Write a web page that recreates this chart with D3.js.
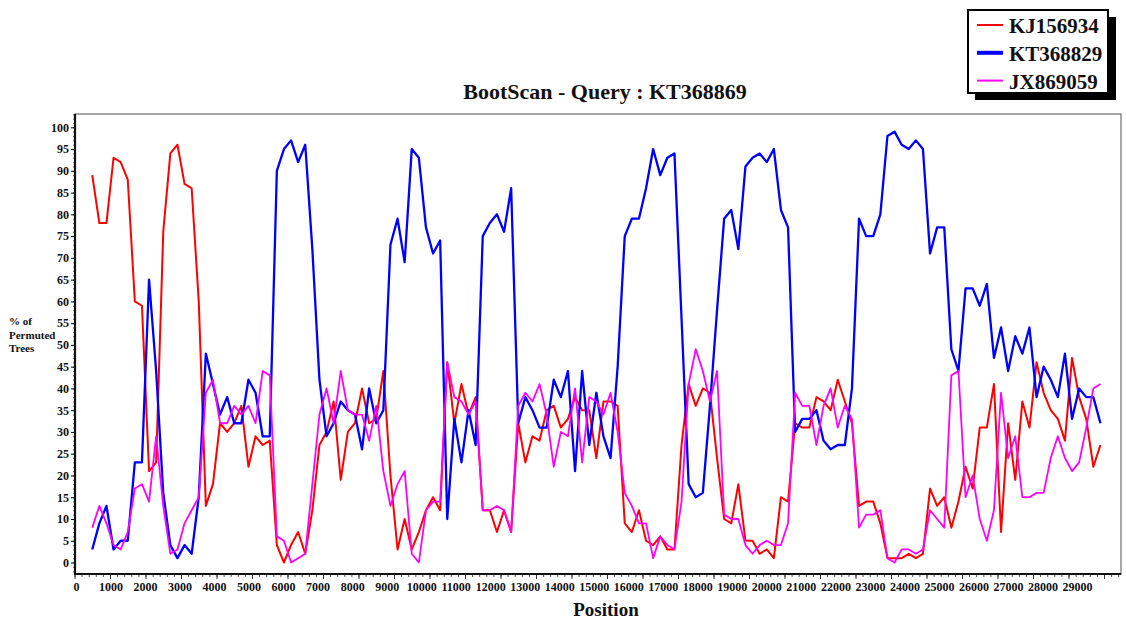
<!DOCTYPE html>
<html>
<head>
<meta charset="utf-8">
<script src="https://d3js.org/d3.v7.min.js"></script>
<style>
  html, body { margin: 0; padding: 0; background: #fff; }
  svg { display: block; }
  text { font-family: "Liberation Serif", "DejaVu Serif", serif; font-weight: bold; }
</style>
</head>
<body>
<svg id="chart" width="1126" height="623"></svg>
<script>
/*
 * BootScan plot, query KT368869: % of permuted trees along the genome.
 */

// window centres: 500, 700, ... 28900
var windowStart = 500;
var windowStep = 200;

var seriesNames = ["KJ156934", "KT368829", "JX869059"];
var seriesColors = ["#ff0000", "#0000ff", "#ff00ff"];
var seriesWidths = [2, 2.3, 1.8];

var kj156934 = [
  89, 78, 78, 93, 92, 88, 60, 59, 21, 23,
  76, 94, 96, 87, 86, 60, 13, 18, 32, 30,
  32, 36, 22, 29, 27, 28, 4, 0, 4, 7,
  2, 12, 27, 30, 37, 19, 30, 32, 40, 32,
  33, 44, 20, 3, 10, 3, 7, 12, 15, 12,
  46, 32, 41, 34, 38, 12, 12, 7, 12, 7,
  32, 23, 29, 28, 35, 36, 31, 33, 38, 35,
  35, 24, 37, 37, 36, 9, 7, 12, 5, 4,
  6, 3, 3, 27, 41, 36, 40, 39, 24, 10,
  9, 18, 5, 5, 2, 3, 1, 15, 14, 32,
  31, 31, 38, 37, 35, 42, 37, 32, 13, 14,
  14, 9, 1, 1, 1, 2, 1, 2, 17, 13,
  15, 8, 14, 22, 17, 31, 31, 41, 7, 32,
  19, 37, 31, 46, 39, 35, 33, 28, 47, 38,
  33, 22, 27
];

var kt368829 = [
  3, 9, 13, 3, 5, 5, 23, 23, 65, 44,
  16, 4, 1, 4, 2, 15, 48, 41, 34, 38,
  32, 32, 42, 39, 29, 29, 90, 95, 97, 92,
  96, 72, 42, 29, 32, 37, 35, 34, 26, 40,
  32, 35, 73, 79, 69, 95, 93, 77, 71, 74,
  10, 33, 23, 35, 27, 75, 78, 80, 76, 86,
  32, 38, 35, 31, 31, 42, 38, 44, 21, 44,
  27, 39, 29, 24, 45, 75, 79, 79, 86, 95,
  89, 93, 94, 56, 18, 15, 16, 36, 58, 79,
  81, 72, 91, 93, 94, 92, 95, 81, 77, 30,
  33, 33, 35, 28, 26, 27, 27, 40, 79, 75,
  75, 80, 98, 99, 96, 95, 97, 95, 71, 77,
  77, 49, 44, 63, 63, 59, 64, 47, 54, 44,
  52, 48, 54, 38, 45, 42, 38, 48, 33, 40,
  38, 38, 32
];

var jx869059 = [
  8, 13, 9, 4, 3, 7, 17, 18, 14, 29,
  13, 2, 3, 9, 12, 15, 39, 42, 32, 32,
  36, 34, 36, 32, 44, 43, 6, 5, 0, 1,
  2, 18, 34, 40, 32, 44, 35, 34, 34, 28,
  36, 21, 13, 18, 21, 2, 0, 12, 14, 14,
  46, 38, 37, 34, 37, 12, 12, 13, 12, 7,
  36, 39, 37, 41, 34, 22, 30, 29, 40, 23,
  38, 37, 34, 39, 30, 16, 13, 9, 9, 1,
  6, 4, 3, 14, 41, 49, 44, 37, 44, 11,
  10, 10, 4, 2, 4, 5, 4, 4, 9, 39,
  36, 36, 27, 36, 40, 31, 36, 33, 8, 11,
  11, 12, 1, 0, 3, 3, 2, 3, 12, 10,
  8, 43, 44, 15, 20, 10, 5, 12, 39, 24,
  29, 15, 15, 16, 16, 24, 29, 24, 21, 23,
  31, 40, 41
];

var allSeries = [kj156934, kt368829, jx869059];

var yTicks = d3.range(0, 101, 5);
var xTicks = d3.range(0, 29001, 1000);

var svg = d3.select("#chart");

var frame = {left: 75, right: 1121, top: 114, bottom: 574};

var x = d3.scaleLinear().domain([0, 29000]).range([74.5, 1104]);
// the program squeezes its position labels a little relative to the ticks
var xLabel = d3.scaleLinear().domain([0, 29000]).range([76, 1077]);
var y = d3.scaleLinear().domain([0, 100]).range([562.5, 127.3]);

// plot frame
svg.append("rect")
  .attr("x", frame.left).attr("y", frame.top)
  .attr("width", frame.right - frame.left)
  .attr("height", frame.bottom - frame.top)
  .attr("fill", "#fff")
  .attr("stroke", "#8a8a8a")
  .attr("stroke-width", 1.5);

// x ticks (minor every 200, major every 1000)
var gx = svg.append("g").attr("transform", "translate(0," + frame.bottom + ")");
gx.append("g")
  .call(d3.axisBottom(x).tickValues(d3.range(0, 29401, 200)).tickSize(3).tickFormat(""))
  .call(function(g) { g.select(".domain").remove(); })
  .selectAll("line").attr("stroke", "#555");
gx.append("g")
  .call(d3.axisBottom(x).tickValues(xTicks).tickSize(5).tickFormat(""))
  .call(function(g) { g.select(".domain").remove(); })
  .selectAll("line").attr("stroke", "#333");
gx.append("g")
  .call(d3.axisBottom(xLabel).tickValues(xTicks).tickSize(0).tickPadding(8).tickFormat(d3.format("d")))
  .call(function(g) { g.select(".domain").remove(); })
  .selectAll("text")
    .attr("font-size", 12)
    .attr("font-family", "Liberation Serif")
    .attr("font-weight", "bold")
    .attr("fill", "#111");

// y ticks
var gy = svg.append("g").attr("transform", "translate(" + frame.left + ",0)");
gy.append("g")
  .call(d3.axisLeft(y).tickValues(d3.range(-2, 104, 1)).tickSize(2).tickFormat(""))
  .call(function(g) { g.select(".domain").remove(); })
  .selectAll("line").attr("stroke", "#777");
gy.append("g")
  .call(d3.axisLeft(y).tickValues(yTicks).tickSize(4).tickPadding(2))
  .call(function(g) { g.select(".domain").remove(); })
  .selectAll("text")
    .attr("font-size", 12)
    .attr("font-family", "Liberation Serif")
    .attr("font-weight", "bold")
    .attr("fill", "#111");

// heavy left and bottom edges
svg.append("line")
  .attr("x1", frame.left).attr("x2", frame.left)
  .attr("y1", frame.top).attr("y2", frame.bottom + 1)
  .attr("stroke", "#111").attr("stroke-width", 2.2);
svg.append("line")
  .attr("x1", frame.left - 1).attr("x2", frame.right)
  .attr("y1", frame.bottom).attr("y2", frame.bottom)
  .attr("stroke", "#111").attr("stroke-width", 2.2);

// series lines
var line = d3.line()
  .x(function(d, i) { return x(windowStart + i * windowStep); })
  .y(function(d) { return y(d); });

allSeries.forEach(function(values, k) {
  svg.append("path")
    .datum(values)
    .attr("fill", "none")
    .attr("stroke", seriesColors[k])
    .attr("stroke-width", seriesWidths[k])
    .attr("stroke-linejoin", "round")
    .attr("d", line);
});

// title and axis labels
svg.append("text")
  .attr("x", 605).attr("y", 99)
  .attr("text-anchor", "middle")
  .attr("font-size", 22)
  .attr("fill", "#111")
  .text("BootScan - Query : KT368869");

svg.append("text")
  .attr("x", 606).attr("y", 616)
  .attr("text-anchor", "middle")
  .attr("font-size", 19)
  .attr("fill", "#111")
  .text("Position");

// kept narrow so it clears the 55 / 50 tick labels
var yLabel = svg.append("text")
  .attr("font-size", 11)
  .attr("fill", "#111");
["% of", "Permuted", "Trees"].forEach(function(s, i) {
  yLabel.append("tspan").attr("x", 9).attr("y", 325 + i * 13.5).text(s);
});

// legend with drop shadow
var legend = svg.append("g");
legend.append("rect")
  .attr("x", 975).attr("y", 17).attr("width", 141).attr("height", 83)
  .attr("fill", "#000");
legend.append("rect")
  .attr("x", 968).attr("y", 10).attr("width", 140).attr("height", 83)
  .attr("fill", "#fff").attr("stroke", "#000").attr("stroke-width", 2);

seriesNames.forEach(function(name, k) {
  var cy = 25 + k * 27.8;
  legend.append("line")
    .attr("x1", 977).attr("x2", 1003)
    .attr("y1", cy).attr("y2", cy)
    .attr("stroke", seriesColors[k])
    .attr("stroke-width", k === 1 ? 4 : 2);
  legend.append("text")
    .attr("x", 1009).attr("y", cy + 8)
    .attr("font-size", 21)
    .attr("fill", "#111")
    .text(name);
});
</script>
</body>
</html>
